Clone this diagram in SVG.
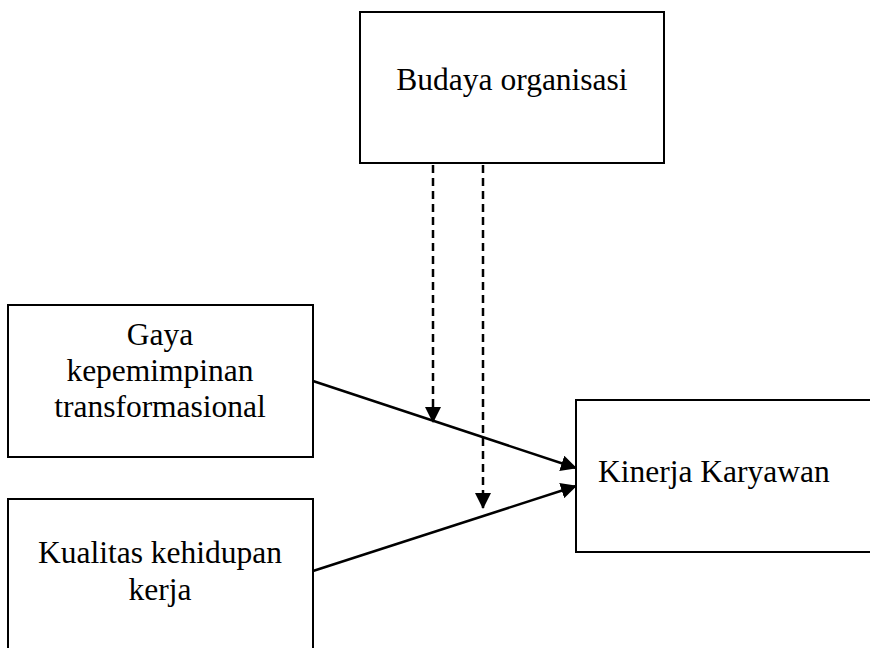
<svg xmlns="http://www.w3.org/2000/svg" width="870" height="648" viewBox="0 0 870 648">
<style>
.box{fill:#fff;stroke:#000;stroke-width:2}
.t{font-family:"Liberation Serif","Times New Roman",serif;font-size:31.5px;fill:#000}
.c{stroke:#000;stroke-width:2.5;fill:none}
.d{stroke-dasharray:8,5}
</style>
<defs>
<marker id="ahl" markerWidth="16" markerHeight="16" refX="15" refY="8" orient="auto" markerUnits="userSpaceOnUse" viewBox="0 0 16 16">
<path d="M0,0 L16,8 L0,16 z" fill="#000"/>
</marker>
</defs>
<rect width="870" height="648" fill="#fff"/>
<g id="budaya">
<rect class="box" x="360" y="12" width="304" height="151"/>
<text class="t" x="512" y="90" text-anchor="middle">Budaya organisasi</text>
</g>
<g id="gaya">
<rect class="box" x="8" y="305" width="305" height="152"/>
<text class="t" x="160" y="345" text-anchor="middle">Gaya</text>
<text class="t" x="160" y="381" text-anchor="middle">kepemimpinan</text>
<text class="t" x="160" y="417" text-anchor="middle">transformasional</text>
</g>
<g id="kualitas">
<rect class="box" x="8" y="499" width="305" height="160"/>
<text class="t" x="160" y="563" text-anchor="middle">Kualitas kehidupan</text>
<text class="t" x="160" y="600" text-anchor="middle">kerja</text>
</g>
<g id="kinerja">
<rect class="box" x="576" y="400" width="304" height="152"/>
<text class="t" x="598" y="482">Kinerja Karyawan</text>
</g>
<g id="connectors">
<line class="c d" x1="433" y1="165" x2="433" y2="422" marker-end="url(#ahl)"/>
<line class="c d" x1="483" y1="165" x2="483" y2="508" marker-end="url(#ahl)"/>
<line class="c" x1="313" y1="381" x2="576" y2="468" marker-end="url(#ahl)"/>
<line class="c" x1="313" y1="571" x2="576" y2="486" marker-end="url(#ahl)"/>
</g>
</svg>
